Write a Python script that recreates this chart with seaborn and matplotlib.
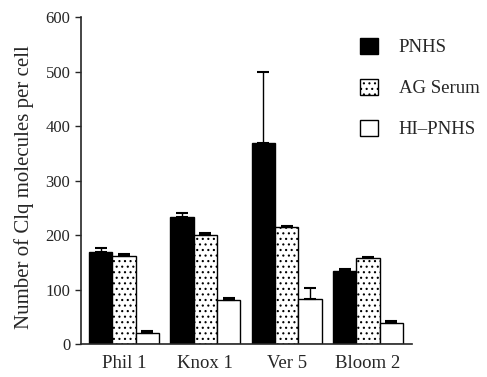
import numpy as np
import pandas as pd
import matplotlib
matplotlib.use("Agg")
import matplotlib.pyplot as plt
import seaborn as sns
from matplotlib.patches import Patch

# values
cells = ["Phil 1", "Knox 1", "Ver 5", "Bloom 2"]
treatments = ["PNHS", "AG Serum", "HI\u2013PNHS"]
pnhs = [168, 233, 369, 134]
ag_serum = [161, 201, 214, 157]
hi_pnhs = [20, 81, 83, 39]
pnhs_err = [8, 7, 131, 3]
ag_serum_err = [4, 3, 3, 3]
hi_pnhs_err = [4, 3, 20, 4]

df = pd.DataFrame({
    "cell": cells * 3,
    "treatment": np.repeat(treatments, len(cells)),
    "value": pnhs + ag_serum + hi_pnhs,
})
errs = [pnhs_err, ag_serum_err, hi_pnhs_err]

sns.set_style("ticks")
plt.rcParams["font.family"] = ["Liberation Serif", "DejaVu Serif"]
plt.rcParams["hatch.linewidth"] = 0.8

fig = plt.figure(figsize=(4.87, 3.77), dpi=100)
ax = fig.add_axes([0.166, 0.0875, 0.68, 0.867])

sns.barplot(data=df, x="cell", y="value", hue="treatment", hue_order=treatments,
            order=cells, palette=["black", "white", "white"], width=0.86,
            errorbar=None, edgecolor="black", linewidth=1.0, saturation=1,
            legend=False, ax=ax)

hatches = ["", "...", ""]
for cont, h, err in zip(ax.containers, hatches, errs):
    xs = []
    ys = []
    for bar in cont:
        bar.set_hatch(h)
        xs.append(bar.get_x() + bar.get_width() / 2)
        ys.append(bar.get_height())
    ax.errorbar(xs, ys, yerr=[np.zeros(len(err)), err], fmt="none",
                ecolor="black", elinewidth=1.0, capsize=4, capthick=1.5)

ax.set_ylim(0, 600)
ax.set_yticks(range(0, 601, 100))
ax.set_xlim(-0.53, 3.54)
ax.set_xlabel("")
ax.set_ylabel("Number of Clq molecules per cell", fontsize=15)
ax.yaxis.set_label_coords(-0.14, 0.48)
ax.tick_params(axis="y", labelsize=12, length=4, width=1)
ax.tick_params(axis="x", labelsize=13.5, length=0, pad=8)
sns.despine(ax=ax)
for s in ["left", "bottom"]:
    ax.spines[s].set_linewidth(1.2)

# legend outside the axes on the right
handles = [Patch(facecolor="black", edgecolor="black"),
           Patch(facecolor="white", edgecolor="black", hatch="..."),
           Patch(facecolor="white", edgecolor="black")]
fig.legend(handles, treatments, loc="upper left", bbox_to_anchor=(0.705, 0.945),
           frameon=False, fontsize=13.5, handlelength=0.95, handleheight=0.95,
           labelspacing=1.2, handletextpad=1.1)

fig.savefig("out.png", dpi=100)
